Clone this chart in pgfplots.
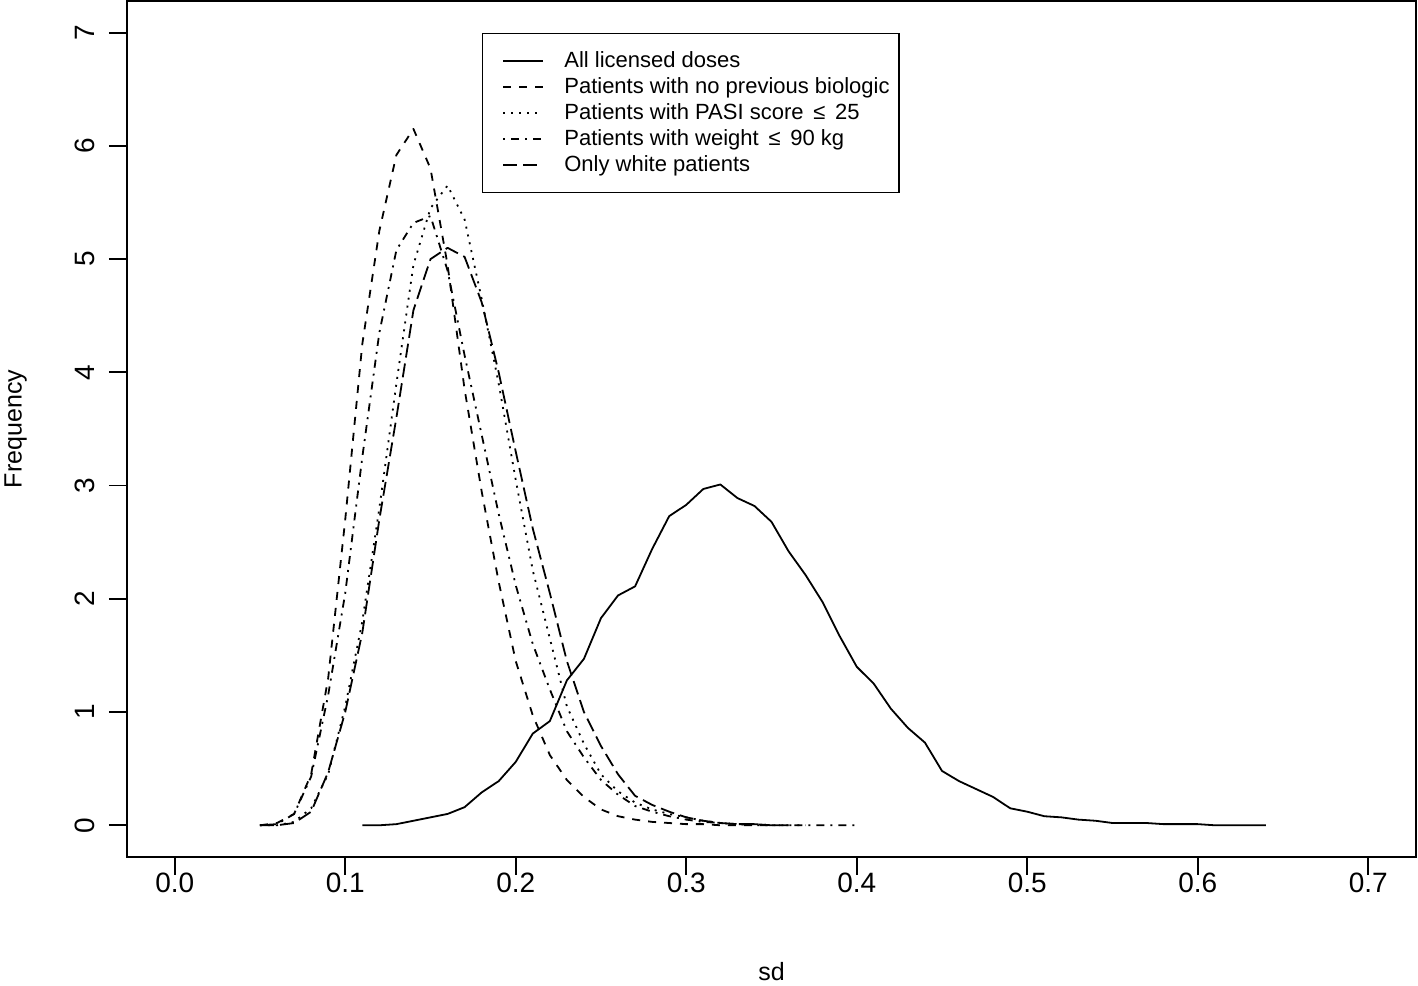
\documentclass[border=0pt]{standalone}
\usepackage{fontspec}
\setmainfont{Liberation Sans}
\usepackage{pgfplots}
\pgfplotsset{compat=1.18}
\usetikzlibrary{calc}

\tikzset{
  lty1/.style={solid},
  lty2/.style={dash pattern=on 4pt off 4pt},
  lty3/.style={dash pattern=on 1pt off 3pt},
  lty4/.style={dash pattern=on 1pt off 3pt on 4pt off 3pt},
  lty5/.style={dash pattern=on 7pt off 3pt},
}

\begin{document}
\begin{tikzpicture}
\begin{axis}[
    name=ax,
    scale only axis, width=644.5pt, height=428pt,
    xmin=-0.028, xmax=0.728, ymin=-0.28, ymax=7.28,
    axis line style={line width=0.9pt},
    xtick={0,0.1,0.2,0.3,0.4,0.5,0.6,0.7},
    xticklabels={0.0,0.1,0.2,0.3,0.4,0.5,0.6,0.7},
    ytick={0,1,2,3,4,5,6,7},
    yticklabels={0,1,2,3,4,5,6,7},
    xtick pos=lower, ytick pos=left,
    tick align=outside, major tick length=9pt,
    tick style={black, line width=0.9pt},
    tick label style={font=\fontsize{14}{16}\selectfont},
    xticklabel style={anchor=center, yshift=-4pt},
    yticklabel style={xshift=-12pt, anchor=center, rotate=90},
    xlabel={sd}, ylabel={Frequency},
    label style={font=\fontsize{12.5}{15}\selectfont},
    xlabel style={at={(axis description cs:0.5,-0.134)}, anchor=center},
    ylabel style={at={(axis description cs:-0.0865,0.5)}, anchor=center},
    every axis plot/.append style={black, line width=0.9pt, line cap=butt, line join=round},
    legend cell align=left,
    legend image code/.code={\path (0pt,0pt); \draw[#1] (5.5pt,0pt) -- (25.5pt,0pt);},
    legend style={
      at={(axis cs:0.18,7)}, anchor=north west,
      draw=black, line width=0.9pt,
      font=\fontsize{11}{13}\selectfont,
      inner xsep=4.5pt, inner ysep=7.25pt,
      row sep=0pt,
      nodes={inner sep=0pt, text height=9.5pt, text depth=3.5pt},
      /tikz/every odd column/.append style={column sep=10pt},
    },
]

% All licensed doses
\addplot[lty1] coordinates {
(0.11,0.00) (0.12,0.00) (0.13,0.01) (0.14,0.04) (0.15,0.07) (0.16,0.10)
(0.17,0.16) (0.18,0.29) (0.19,0.39) (0.20,0.56) (0.21,0.81) (0.22,0.92)
(0.23,1.28) (0.24,1.47) (0.25,1.83) (0.26,2.03) (0.27,2.11) (0.28,2.44)
(0.29,2.73) (0.30,2.83) (0.31,2.97) (0.32,3.01) (0.33,2.89) (0.34,2.82)
(0.35,2.68) (0.36,2.42) (0.37,2.21) (0.38,1.97) (0.39,1.67) (0.40,1.40)
(0.41,1.25) (0.42,1.03) (0.43,0.86) (0.44,0.73) (0.45,0.48) (0.46,0.39)
(0.47,0.32) (0.48,0.25) (0.49,0.15) (0.50,0.12) (0.51,0.08) (0.52,0.07)
(0.53,0.05) (0.54,0.04) (0.55,0.02) (0.56,0.02) (0.57,0.02) (0.58,0.01)
(0.59,0.01) (0.60,0.01) (0.61,0.00) (0.62,0.00) (0.63,0.00) (0.64,0.00)
};
\addlegendentry{All licensed doses}

% no previous biologic
\addplot[lty2] coordinates {
(0.05,0.00) (0.06,0.02) (0.07,0.10) (0.08,0.45) (0.09,1.30) (0.10,2.70)
(0.11,4.25) (0.12,5.25) (0.13,5.92) (0.14,6.15) (0.15,5.80) (0.16,4.95)
(0.17,3.85) (0.18,2.95) (0.19,2.15) (0.20,1.45) (0.21,0.97) (0.22,0.62)
(0.23,0.40) (0.24,0.25) (0.25,0.14) (0.26,0.08) (0.27,0.05) (0.28,0.03)
(0.29,0.02) (0.30,0.01) (0.31,0.01) (0.32,0.00) (0.33,0.00) (0.34,0.00)
(0.35,0.00)
};
\addlegendentry{Patients with no previous biologic}

% PASI score <= 25
\addplot[lty3] coordinates {
(0.05,0.00) (0.06,0.00) (0.07,0.03) (0.08,0.15) (0.09,0.45) (0.10,1.05)
(0.11,1.80) (0.12,2.80) (0.13,3.90) (0.14,4.95) (0.15,5.45) (0.16,5.65)
(0.17,5.35) (0.18,4.65) (0.19,3.90) (0.20,3.05) (0.21,2.25) (0.22,1.65)
(0.23,1.05) (0.24,0.72) (0.25,0.45) (0.26,0.30) (0.27,0.20) (0.28,0.14)
(0.29,0.10) (0.30,0.07) (0.31,0.04) (0.32,0.02) (0.33,0.01) (0.34,0.00)
(0.35,0.00) (0.36,0.00) (0.37,0.00)
};
\addlegendentry{Patients with PASI score\, ≤\, 25}

% weight <= 90 kg
\addplot[lty4] coordinates {
(0.05,0.00) (0.06,0.01) (0.07,0.10) (0.08,0.43) (0.09,1.15) (0.10,2.05)
(0.11,3.25) (0.12,4.35) (0.13,5.08) (0.14,5.32) (0.15,5.38) (0.16,4.90)
(0.17,4.15) (0.18,3.45) (0.19,2.75) (0.20,2.12) (0.21,1.60) (0.22,1.20)
(0.23,0.83) (0.24,0.60) (0.25,0.40) (0.26,0.27) (0.27,0.17) (0.28,0.12)
(0.29,0.08) (0.30,0.05) (0.31,0.03) (0.32,0.02) (0.33,0.01) (0.34,0.01)
(0.35,0.00) (0.36,0.00) (0.37,0.00) (0.38,0.00) (0.39,0.00) (0.40,0.00)
};
\addlegendentry{Patients with weight\, ≤\, 90 kg}

% only white patients
\addplot[lty5] coordinates {
(0.05,0.00) (0.06,0.00) (0.07,0.02) (0.08,0.12) (0.09,0.47) (0.10,1.00)
(0.11,1.70) (0.12,2.70) (0.13,3.60) (0.14,4.55) (0.15,5.00) (0.16,5.10)
(0.17,5.02) (0.18,4.62) (0.19,4.00) (0.20,3.30) (0.21,2.62) (0.22,2.05)
(0.23,1.45) (0.24,1.00) (0.25,0.70) (0.26,0.45) (0.27,0.26) (0.28,0.18)
(0.29,0.12) (0.30,0.07) (0.31,0.04) (0.32,0.02) (0.33,0.01) (0.34,0.01)
(0.35,0.00) (0.36,0.00)
};
\addlegendentry{Only white patients}

\end{axis}
\pgfresetboundingbox
\path[use as bounding box] ($(ax.south west)+(-63.5pt,-64.5pt)$) rectangle ($(ax.north east)+(1pt,0.5pt)$);
\end{tikzpicture}
\end{document}
